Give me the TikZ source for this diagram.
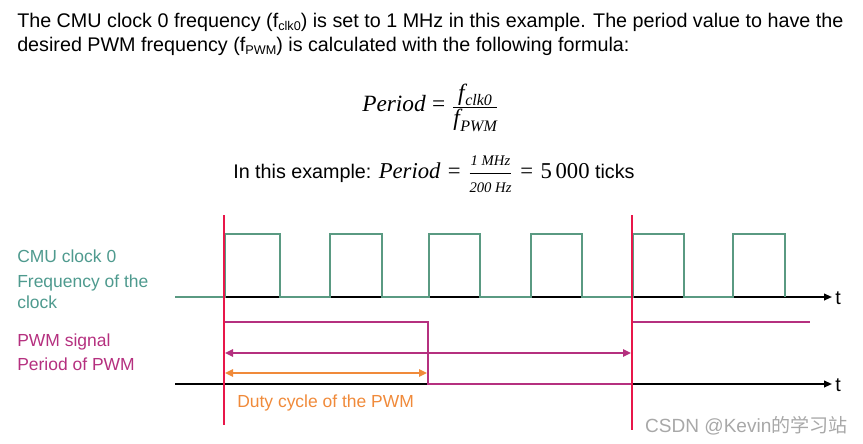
\documentclass[tikz,border=0pt]{standalone}
\usepackage{fontspec}
\setmainfont{Liberation Sans}
\newfontfamily\cjk{Noto Sans CJK SC}
\newfontfamily\mser{Liberation Serif}
\usetikzlibrary{arrows.meta}
\definecolor{clk}{HTML}{5A9A82}
\definecolor{clktxt}{HTML}{4E9A8E}
\definecolor{pwm}{HTML}{B5307F}
\definecolor{duty}{HTML}{F08A3A}
\definecolor{marker}{HTML}{E8174A}
\definecolor{wm}{HTML}{A8A8A8}
\newcommand{\mi}[2]{\mbox{\fontsize{#1}{#1}\selectfont\mser\itshape #2}}
\newcommand{\mr}[2]{\mbox{\fontsize{#1}{#1}\selectfont\mser #2}}
\newcommand{\fsub}[2]{\mbox{\fontsize{17.5}{18}\selectfont\mser\itshape f\kern0.5pt\raisebox{#1}{\fontsize{12}{12}\selectfont #2}}}
\tikzset{
  txt/.style={anchor=base west, inner sep=0pt, font=\fontsize{14.8}{17}\selectfont},
  lbl/.style={anchor=base west, inner sep=0pt, font=\fontsize{13.1}{15}\selectfont},
  axisline/.style={line width=1.3pt, -{Triangle[length=6pt,width=5pt]}},
  clkwave/.style={clk, line width=1.3pt},
  pwmwave/.style={pwm, line width=1.1pt},
  markline/.style={marker, line width=1.1pt},
  dimarrow/.style={line width=1.1pt, {Triangle[length=6pt,width=5.5pt]}-{Triangle[length=6pt,width=5.5pt]}},
}
\begin{document}
\begin{tikzpicture}[x=0.75pt,y=-0.75pt]
\useasboundingbox (0,0) rectangle (863,443);
% top text
\node[txt] (l1) at (17,27) {The CMU clock 0 frequency (f\raisebox{-0.35ex}{\fontsize{9.5}{10}\selectfont clk0}) is set to 1 MHz in this example. The period value to have the};
\node[txt] (l2) at (17,51) {desired PWM frequency (f\raisebox{-0.35ex}{\fontsize{9.5}{10}\selectfont PWM}) is calculated with the following formula:};
% formula
\node[inner sep=0pt, anchor=base west] (f1) at (362,111)
  {$\displaystyle\mi{17.5}{Period}\kern2pt\mathrel{\mr{17.5}{=}}\kern2pt\frac{\fsub{-0.45ex}{clk0}\rule[-4pt]{0pt}{4pt}}{\fsub{-0.55ex}{PWM}}$};
\node[txt] (f2) at (233,178)
  {In this example: $\displaystyle\mi{17}{Period}\kern1.5pt\mathrel{\mr{17}{=}}\kern1.5pt\frac{\mi{11}{1 MHz}\rule[-4pt]{0pt}{4pt}}{\mi{11}{200 Hz}\rule{0pt}{13pt}}\kern1.5pt\mathrel{\mr{17}{=}}\kern1.5pt\mr{17}{5\,000}$ ticks};
% axes
\coordinate (a1s) at (175,297);
\coordinate (a1e) at (832,297);
\coordinate (a2s) at (175,384);
\coordinate (a2e) at (832,384);
\draw[axisline] (a1s) -- (a1e);
\draw[axisline] (a2s) -- (a2e);
\node[txt, anchor=west] (t1) at (835,298) {t};
\node[txt, anchor=west] (t2) at (835,385) {t};
% clock waveform
\draw[clkwave] (175,297) -- (225,297) -- (225,234) -- (280,234) -- (280,297)
  -- (330,297) -- (330,234) -- (382,234) -- (382,297)
  -- (429,297) -- (429,234) -- (480,234) -- (480,297)
  -- (531,297) -- (531,234) -- (582,234) -- (582,297)
  -- (633,297) -- (633,234) -- (684,234) -- (684,297)
  -- (733,297) -- (733,234) -- (785,234) -- (785,297);
% pwm waveform
\draw[pwmwave] (224,322) -- (428,322) -- (428,384) -- (632,384) -- (632,322) -- (810,322);
% markers
\draw[markline] (224,215) -- (224,425);
\draw[markline] (632,215) -- (632,430);
% dimension arrows
\coordinate (p1) at (225,353);
\coordinate (p2) at (631,353);
\coordinate (d1) at (225,373);
\coordinate (d2) at (427,373);
\draw[dimarrow, pwm] (p1) -- (p2);
\draw[dimarrow, duty] (d1) -- (d2);
% labels
\node[lbl, text=clktxt] (c1) at (17,262) {CMU clock 0};
\node[lbl, text=clktxt] (c2) at (17,287) {Frequency of the};
\node[lbl, text=clktxt] (c3) at (17,308) {clock};
\node[lbl, text=pwm] (w1) at (17,346) {PWM signal};
\node[lbl, text=pwm] (w2) at (17,370) {Period of PWM};
\node[lbl, text=duty] (dc) at (237,407) {Duty cycle of the PWM};
\node[lbl, text=wm, anchor=base east, font=\fontsize{14.3}{16}\selectfont] (wmk) at (848,432) {CSDN @Kevin{\cjk 的学习站}};
\end{tikzpicture}
\end{document}
